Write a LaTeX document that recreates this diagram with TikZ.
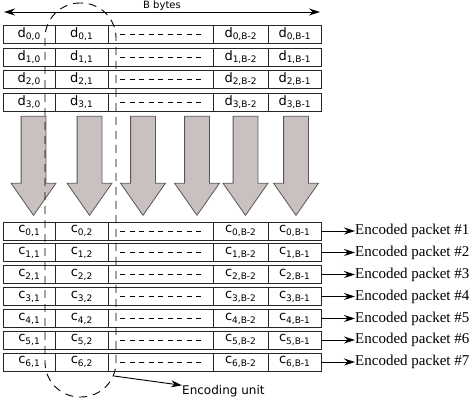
\documentclass[tikz,border=0pt]{standalone}
\usepackage{fontspec}
\setmainfont{Liberation Serif}
\setsansfont{DejaVu Sans}
\usetikzlibrary{arrows.meta}
\usetikzlibrary{positioning}
\usetikzlibrary{shapes.arrows}

\definecolor{arrowfill}{RGB}{201,192,192}
\definecolor{arrowline}{RGB}{90,86,86}

\newcommand{\cellid}[2]{#1\raisebox{-2.8pt}{\fontsize{9}{9}\selectfont #2}}

\begin{document}
\begin{tikzpicture}[x=1pt,y=-1pt,
  >={Stealth[length=11pt,width=7pt]},node distance=0pt,
  cell/.style={draw=black!85,rectangle,minimum height=18pt,inner sep=0pt,outer sep=0pt,line width=0.9pt,font=\sffamily\fontsize{13}{13}\selectfont},
  cola/.style={cell,minimum width=52pt},
  colb/.style={cell,minimum width=53pt},
  colgap/.style={cell,minimum width=105pt,path picture={\draw[black,line width=0.7pt,dash pattern=on 5pt off 4.5pt] ([xshift=12pt]path picture bounding box.west) -- ([xshift=-8pt]path picture bounding box.east);}},
  coly/.style={cell,minimum width=55pt},
  colz/.style={cell,minimum width=53pt},
  bigarrow/.style={single arrow,shape border rotate=270,anchor=tip,draw=arrowline,fill=arrowfill,line width=0.8pt,inner sep=12pt,minimum height=99pt,single arrow head extend=10pt,single arrow tip angle=70},
  packet/.style={right=34pt of #1,inner sep=0pt,font=\fontsize{15}{15}\selectfont},
  unit/.style={draw=black,line width=0.9pt,dash pattern=on 8pt off 6pt,rounded corners=35pt,minimum width=71pt,minimum height=394pt,inner sep=0pt},
  link/.style={->,line width=0.9pt}]
  \useasboundingbox (0,0) rectangle (473,400);

  % byte range
  \coordinate (bl) at (4,12);
  \coordinate (br) at (320,12);
  \draw[<->,line width=0.9pt] (bl) -- node[above,inner sep=1pt,font=\sffamily\fontsize{10}{10}\selectfont] (bbytes) {B bytes} (br);

  % data packets
  \node[cola,anchor=west] (d0a) at (3,34) {\cellid{d}{0,0}};
  \node[colb,right=of d0a] (d0b) {\cellid{d}{0,1}};
  \node[colgap,right=of d0b] (d0m) {};
  \node[coly,right=of d0m] (d0y) {\cellid{d}{0,B-2}};
  \node[colz,right=of d0y] (d0z) {\cellid{d}{0,B-1}};

  \node[cola,anchor=west] (d1a) at (3,57) {\cellid{d}{1,0}};
  \node[colb,right=of d1a] (d1b) {\cellid{d}{1,1}};
  \node[colgap,right=of d1b] (d1m) {};
  \node[coly,right=of d1m] (d1y) {\cellid{d}{1,B-2}};
  \node[colz,right=of d1y] (d1z) {\cellid{d}{1,B-1}};

  \node[cola,anchor=west] (d2a) at (3,79) {\cellid{d}{2,0}};
  \node[colb,right=of d2a] (d2b) {\cellid{d}{2,1}};
  \node[colgap,right=of d2b] (d2m) {};
  \node[coly,right=of d2m] (d2y) {\cellid{d}{2,B-2}};
  \node[colz,right=of d2y] (d2z) {\cellid{d}{2,B-1}};

  \node[cola,anchor=west] (d3a) at (3,102) {\cellid{d}{3,0}};
  \node[colb,right=of d3a] (d3b) {\cellid{d}{3,1}};
  \node[colgap,right=of d3b] (d3m) {};
  \node[coly,right=of d3m] (d3y) {\cellid{d}{3,B-2}};
  \node[colz,right=of d3y] (d3z) {\cellid{d}{3,B-1}};

  % encoding arrows
  \node[bigarrow] (arr1) at (33.5,216) {};
  \node[bigarrow] (arr2) at (89.5,216) {};
  \node[bigarrow] (arr3) at (143,216) {};
  \node[bigarrow] (arr4) at (197,216) {};
  \node[bigarrow] (arr5) at (245.5,216) {};
  \node[bigarrow] (arr6) at (296,216) {};

  % encoded packets
  \node[cola,anchor=west] (c0a) at (3,231) {\cellid{c}{0,1}};
  \node[colb,right=of c0a] (c0b) {\cellid{c}{0,2}};
  \node[colgap,right=of c0b] (c0m) {};
  \node[coly,right=of c0m] (c0y) {\cellid{c}{0,B-2}};
  \node[colz,right=of c0y] (c0z) {\cellid{c}{0,B-1}};
  \node[packet=c0z] (p0) {Encoded packet \#1};
  \draw[link] (c0z) -- (p0);

  \node[cola,anchor=west] (c1a) at (3,252.5) {\cellid{c}{1,1}};
  \node[colb,right=of c1a] (c1b) {\cellid{c}{1,2}};
  \node[colgap,right=of c1b] (c1m) {};
  \node[coly,right=of c1m] (c1y) {\cellid{c}{1,B-2}};
  \node[colz,right=of c1y] (c1z) {\cellid{c}{1,B-1}};
  \node[packet=c1z] (p1) {Encoded packet \#2};
  \draw[link] (c1z) -- (p1);

  \node[cola,anchor=west] (c2a) at (3,274.5) {\cellid{c}{2,1}};
  \node[colb,right=of c2a] (c2b) {\cellid{c}{2,2}};
  \node[colgap,right=of c2b] (c2m) {};
  \node[coly,right=of c2m] (c2y) {\cellid{c}{2,B-2}};
  \node[colz,right=of c2y] (c2z) {\cellid{c}{2,B-1}};
  \node[packet=c2z] (p2) {Encoded packet \#3};
  \draw[link] (c2z) -- (p2);

  \node[cola,anchor=west] (c3a) at (3,296.5) {\cellid{c}{3,1}};
  \node[colb,right=of c3a] (c3b) {\cellid{c}{3,2}};
  \node[colgap,right=of c3b] (c3m) {};
  \node[coly,right=of c3m] (c3y) {\cellid{c}{3,B-2}};
  \node[colz,right=of c3y] (c3z) {\cellid{c}{3,B-1}};
  \node[packet=c3z] (p3) {Encoded packet \#4};
  \draw[link] (c3z) -- (p3);

  \node[cola,anchor=west] (c4a) at (3,318.5) {\cellid{c}{4,1}};
  \node[colb,right=of c4a] (c4b) {\cellid{c}{4,2}};
  \node[colgap,right=of c4b] (c4m) {};
  \node[coly,right=of c4m] (c4y) {\cellid{c}{4,B-2}};
  \node[colz,right=of c4y] (c4z) {\cellid{c}{4,B-1}};
  \node[packet=c4z] (p4) {Encoded packet \#5};
  \draw[link] (c4z) -- (p4);

  \node[cola,anchor=west] (c5a) at (3,340) {\cellid{c}{5,1}};
  \node[colb,right=of c5a] (c5b) {\cellid{c}{5,2}};
  \node[colgap,right=of c5b] (c5m) {};
  \node[coly,right=of c5m] (c5y) {\cellid{c}{5,B-2}};
  \node[colz,right=of c5y] (c5z) {\cellid{c}{5,B-1}};
  \node[packet=c5z] (p5) {Encoded packet \#6};
  \draw[link] (c5z) -- (p5);

  \node[cola,anchor=west] (c6a) at (3,362) {\cellid{c}{6,1}};
  \node[colb,right=of c6a] (c6b) {\cellid{c}{6,2}};
  \node[colgap,right=of c6b] (c6m) {};
  \node[coly,right=of c6m] (c6y) {\cellid{c}{6,B-2}};
  \node[colz,right=of c6y] (c6z) {\cellid{c}{6,B-1}};
  \node[packet=c6z] (p6) {Encoded packet \#7};
  \draw[link] (c6z) -- (p6);

  % encoding unit
  \node[unit] (unit) at (80.5,200) {};
  \coordinate (ustart) at (114,376);
  \node[anchor=west,inner sep=0pt,font=\sffamily\fontsize{12}{12}\selectfont] (ulabel) at (182,391) {Encoding unit};
  \draw[link] (ustart) -- (ulabel);

\end{tikzpicture}
\end{document}
